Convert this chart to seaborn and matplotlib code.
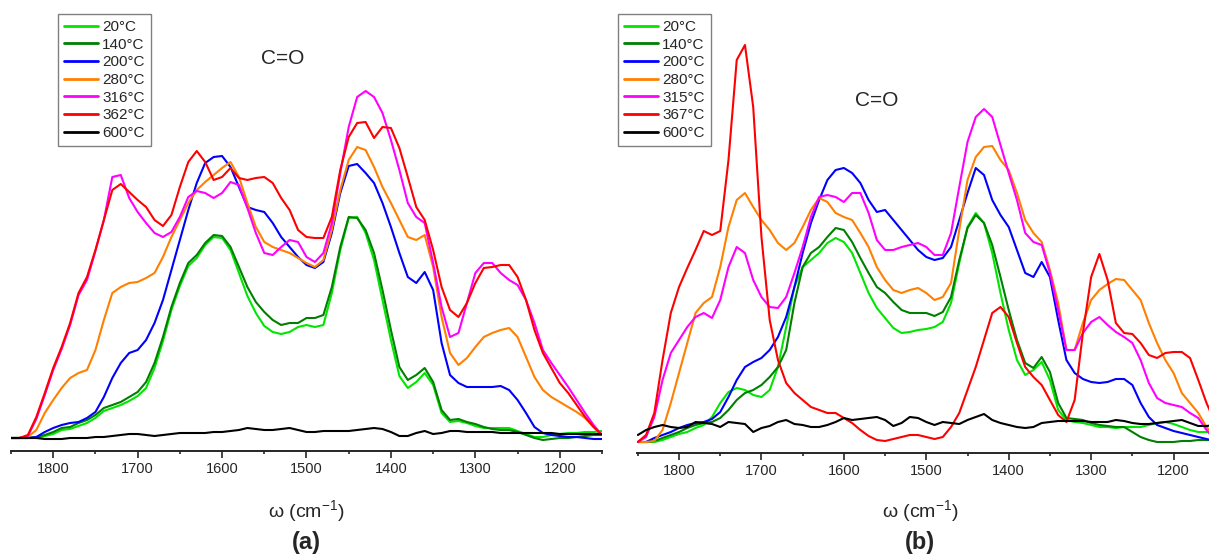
"""Temperature-resolved IR spectra around the C=O band, panels (a) and (b)."""

import matplotlib
matplotlib.use('Agg')
import matplotlib.pyplot as plt
from matplotlib.ticker import MultipleLocator
import pandas as pd
import seaborn as sns

# wavenumber grid (cm^-1), shared by both panels
wavenumber = [
    1850, 1840, 1830, 1820, 1810, 1800, 1790, 1780, 1770, 1760,
    1750, 1740, 1730, 1720, 1710, 1700, 1690, 1680, 1670, 1660,
    1650, 1640, 1630, 1620, 1610, 1600, 1590, 1580, 1570, 1560,
    1550, 1540, 1530, 1520, 1510, 1500, 1490, 1480, 1470, 1460,
    1450, 1440, 1430, 1420, 1410, 1400, 1390, 1380, 1370, 1360,
    1350, 1340, 1330, 1320, 1310, 1300, 1290, 1280, 1270, 1260,
    1250, 1240, 1230, 1220, 1210, 1200, 1190, 1180, 1170, 1160,
    1150,
]

# ---- panel (a), intensity in arbitrary units ----
labels_a = ['20°C', '140°C', '200°C', '280°C', '316°C', '362°C', '600°C']

a_20 = [
    0, 0, 0, 0, 2, 4, 8, 9, 12, 15,
    20, 27, 30, 33, 37, 42, 50, 70, 97, 128,
    152, 172, 180, 193, 201, 200, 188, 165, 142, 125,
    112, 106, 104, 106, 111, 113, 111, 113, 145, 188,
    220, 221, 205, 178, 138, 98, 62, 50, 56, 65,
    53, 25, 16, 17, 15, 12, 10, 10, 10, 10,
    7, 4, 1, 1, 3, 4, 5, 5, 6, 6,
    7,
]
a_140 = [
    0, 0, 0, 1, 3, 6, 10, 11, 15, 18,
    23, 30, 33, 36, 41, 46, 56, 75, 101, 131,
    155, 175, 183, 195, 203, 202, 191, 171, 151, 136,
    126, 118, 113, 115, 115, 120, 120, 123, 151, 191,
    221, 220, 208, 185, 148, 108, 71, 58, 63, 70,
    56, 28, 18, 19, 16, 14, 11, 9, 8, 8,
    6, 3, 0, -2, -1, 0, 0, 1, 2, 3,
    3,
]
a_200 = [
    0, 0, 0, 1, 6, 10, 13, 15, 16, 20,
    26, 41, 60, 75, 85, 88, 98, 115, 138, 168,
    198, 228, 255, 275, 281, 282, 271, 251, 231, 228,
    226, 215, 201, 191, 181, 173, 170, 176, 205, 245,
    272, 274, 265, 255, 235, 211, 185, 161, 155, 166,
    148, 95, 63, 55, 51, 51, 51, 51, 52, 48,
    38, 25, 11, 5, 3, 2, 1, 1, 0, -1,
    -1,
]
a_280 = [
    0, 0, 1, 8, 25, 38, 50, 60, 65, 68,
    88, 118, 145, 151, 155, 156, 160, 165, 181, 201,
    218, 235, 248, 256, 263, 270, 276, 261, 235, 211,
    196, 191, 188, 185, 180, 175, 171, 178, 208, 248,
    278, 291, 288, 271, 251, 235, 218, 201, 198, 203,
    171, 121, 85, 73, 80, 91, 101, 105, 108, 110,
    101, 81, 61, 48, 41, 36, 31, 26, 20, 11,
    3,
]
a_316 = [
    0, 0, 2, 19, 43, 68, 89, 113, 143, 158,
    187, 218, 261, 263, 240, 226, 215, 205, 201, 206,
    221, 241, 247, 245, 240, 245, 256, 253, 230, 205,
    185, 183, 191, 198, 196, 181, 176, 185, 215, 265,
    311, 341, 347, 341, 325, 298, 268, 235, 221, 215,
    175, 131, 101, 105, 135, 165, 175, 175, 165, 158,
    153, 138, 115, 88, 75, 63, 51, 38, 25, 13,
    3,
]
a_362 = [
    0, 0, 3, 21, 45, 70, 91, 115, 145, 161,
    188, 218, 248, 254, 246, 238, 231, 218, 212, 223,
    251, 276, 287, 276, 258, 261, 270, 260, 258, 260,
    261, 255, 240, 228, 208, 201, 200, 200, 221, 268,
    301, 315, 316, 300, 311, 310, 290, 261, 231, 218,
    188, 151, 128, 121, 135, 155, 170, 171, 173, 173,
    161, 138, 108, 85, 70, 55, 45, 33, 21, 11,
    3,
]
a_600 = [
    0, 0, 0, 0, -1, -1, -1, 0, 0, 0,
    1, 1, 2, 3, 4, 4, 3, 2, 3, 4,
    5, 5, 5, 5, 6, 6, 7, 8, 10, 9,
    8, 8, 9, 10, 8, 6, 6, 7, 7, 7,
    7, 8, 9, 10, 9, 6, 2, 2, 5, 7,
    4, 5, 7, 7, 6, 6, 6, 6, 5, 5,
    5, 5, 5, 5, 5, 4, 4, 4, 4, 4,
    4,
]

# ---- panel (b) ----
labels_b = ['20°C', '140°C', '200°C', '280°C', '315°C', '367°C', '600°C']

b_20 = [
    0, 0, 0, 2, 5, 8, 10, 14, 17, 25,
    39, 50, 54, 52, 47, 45, 52, 75, 115, 155,
    175, 182, 189, 199, 204, 200, 189, 169, 149, 134,
    124, 114, 109, 110, 112, 113, 115, 120, 139, 179,
    215, 229, 219, 189, 149, 112, 82, 67, 72, 80,
    62, 32, 22, 20, 19, 17, 15, 15, 14, 15,
    15, 15, 17, 19, 20, 18, 15, 12, 10, 10,
    10,
]
b_140 = [
    0, 0, 1, 4, 7, 10, 14, 17, 19, 20,
    24, 32, 42, 49, 52, 57, 65, 75, 92, 139,
    175, 189, 195, 205, 214, 212, 200, 184, 169, 155,
    149, 140, 132, 129, 129, 129, 126, 130, 145, 182,
    214, 227, 219, 197, 165, 132, 102, 79, 74, 85,
    70, 39, 24, 23, 22, 19, 17, 16, 15, 15,
    10, 5, 2, 0, 0, 0, 1, 1, 2, 2,
    2,
]
b_200 = [
    0, 0, 4, 7, 10, 14, 17, 19, 20, 23,
    30, 45, 62, 75, 80, 84, 92, 105, 125, 155,
    189, 219, 242, 262, 272, 274, 269, 259, 242, 230,
    232, 222, 212, 202, 192, 185, 182, 184, 195, 222,
    249, 274, 267, 242, 227, 215, 192, 169, 165, 180,
    165, 122, 82, 69, 63, 60, 59, 60, 63, 63,
    57, 39, 25, 17, 14, 11, 9, 7, 5, 3,
    1,
]
b_280 = [
    0, 0, 1, 12, 39, 69, 99, 129, 139, 145,
    175, 215, 242, 249, 235, 222, 212, 199, 192, 199,
    215, 232, 244, 240, 229, 225, 222, 209, 195, 175,
    162, 152, 149, 152, 154, 149, 142, 145, 159, 212,
    262, 285, 295, 296, 282, 272, 249, 222, 209, 200,
    172, 139, 92, 92, 119, 142, 152, 158, 163, 162,
    152, 142, 119, 99, 82, 69, 49, 39, 29, 15,
    5,
]
b_315 = [
    0, 5, 25, 62, 89, 102, 115, 125, 129, 124,
    142, 175, 195, 189, 162, 145, 135, 134, 145, 169,
    195, 225, 245, 247, 245, 240, 249, 249, 229, 202,
    192, 192, 195, 197, 199, 195, 187, 187, 209, 255,
    300, 325, 333, 325, 297, 269, 242, 209, 200, 197,
    169, 132, 92, 92, 109, 120, 125, 117, 110, 105,
    99, 82, 59, 44, 39, 37, 35, 29, 24, 12,
    2,
]
b_367 = [
    0, 7, 29, 82, 129, 155, 174, 192, 211, 207,
    211, 282, 382, 397, 335, 205, 122, 82, 59, 49,
    42, 35, 32, 29, 29, 24, 19, 12, 6, 2,
    1, 3, 5, 7, 7, 5, 3, 5, 15, 29,
    52, 75, 102, 129, 135, 125, 99, 75, 65, 57,
    42, 27, 20, 42, 109, 165, 188, 162, 119, 109,
    108, 99, 87, 84, 89, 90, 90, 84, 62, 39,
    20,
]
b_600 = [
    7, 12, 15, 17, 15, 14, 15, 20, 19, 18,
    15, 20, 19, 18, 10, 14, 16, 20, 22, 18,
    17, 15, 15, 17, 20, 24, 22, 23, 24, 25,
    22, 16, 19, 25, 24, 20, 17, 20, 19, 18,
    22, 25, 28, 22, 19, 17, 15, 14, 15, 19,
    20, 21, 21, 21, 21, 20, 20, 20, 22, 21,
    19, 18, 18, 19, 20, 21, 22, 19, 16, 16,
    17,
]

colors = ['#00e600', '#007f00', '#0000ff', '#ff8000', '#ff00ff', '#ff0000', '#000000']


def _long(labels, series):
    df = pd.DataFrame({'wavenumber': wavenumber})
    for label, values in zip(labels, series):
        df[label] = values
    return df.melt(id_vars='wavenumber', var_name='temperature', value_name='intensity')


def _panel(ax, labels, series, xlim, ylim, legend_x, co_xy):
    df = _long(labels, series)
    sns.lineplot(
        data=df, x='wavenumber', y='intensity', hue='temperature',
        hue_order=labels, palette=dict(zip(labels, colors)),
        estimator=None, sort=False, linewidth=1.5, ax=ax,
    )
    ax.set_xlim(*xlim)
    ax.set_ylim(*ylim)
    ax.set_yticks([])
    ax.set_xlabel('')
    ax.set_ylabel('')
    for side in ('left', 'top', 'right'):
        ax.spines[side].set_visible(False)
    ax.spines['bottom'].set_linewidth(1.4)
    ax.xaxis.set_major_locator(MultipleLocator(100))
    ax.xaxis.set_minor_locator(MultipleLocator(50))
    ax.tick_params(axis='x', which='major', direction='out', length=5, width=1.2,
                   labelsize=10.5, pad=3)
    ax.tick_params(axis='x', which='minor', direction='out', length=2.5, width=1.2)
    ax.patch.set_alpha(0)

    handles, names = ax.get_legend_handles_labels()
    leg = ax.legend(
        handles, names, loc='upper left', bbox_to_anchor=(legend_x, 0.991),
        borderaxespad=0, fontsize=11, labelspacing=0.24, handlelength=2.2,
        handletextpad=0.3, borderpad=0.4, fancybox=False, framealpha=1,
        edgecolor='#808080',
    )
    leg.get_frame().set_linewidth(1.0)
    for line in leg.get_lines():
        line.set_linewidth(2.0)
    ax.text(co_xy[0], co_xy[1], 'C=O', transform=ax.transAxes,
            fontsize=15, ha='center', va='center')


def main():
    sns.set_style('ticks')
    plt.rcParams['font.family'] = ['Liberation Sans', 'DejaVu Sans']
    plt.rcParams['mathtext.fontset'] = 'custom'
    plt.rcParams['mathtext.rm'] = 'Liberation Sans'
    plt.rcParams['mathtext.it'] = 'Liberation Sans:italic'

    W, H = 1209, 560
    fig = plt.figure(figsize=(W / 100, H / 100), dpi=100)
    fig.patch.set_facecolor('white')

    ax_a = fig.add_axes([11 / W, 109 / H, 591 / W, 441 / H])
    ax_b = fig.add_axes([637 / W, 107 / H, 572 / W, 443 / H])

    _panel(ax_a, labels_a, [a_20, a_140, a_200, a_280, a_316, a_362, a_600],
           xlim=(1850, 1150), ylim=(-13, 428), legend_x=(58 - 11) / 591,
           co_xy=((283 - 11) / 591, (451 - 59) / 441))
    _panel(ax_b, labels_b, [b_20, b_140, b_200, b_280, b_315, b_367, b_600],
           xlim=(1851, 1157), ylim=(-11, 432), legend_x=(618 - 637) / 572,
           co_xy=((877 - 637) / 572, (453 - 100) / 443))

    for x_pix, panel in ((306, '(a)'), (920, '(b)')):
        fig.text(x_pix / W, (H - 511) / H, 'ω (cm$^{-1}$)', fontsize=14,
                 ha='center', va='center')
        fig.text(x_pix / W, (H - 543) / H, panel, fontsize=17, fontweight='bold',
                 ha='center', va='center')

    fig.savefig('out.png', dpi=100, facecolor='white')
    plt.close(fig)


if __name__ == '__main__':
    main()
